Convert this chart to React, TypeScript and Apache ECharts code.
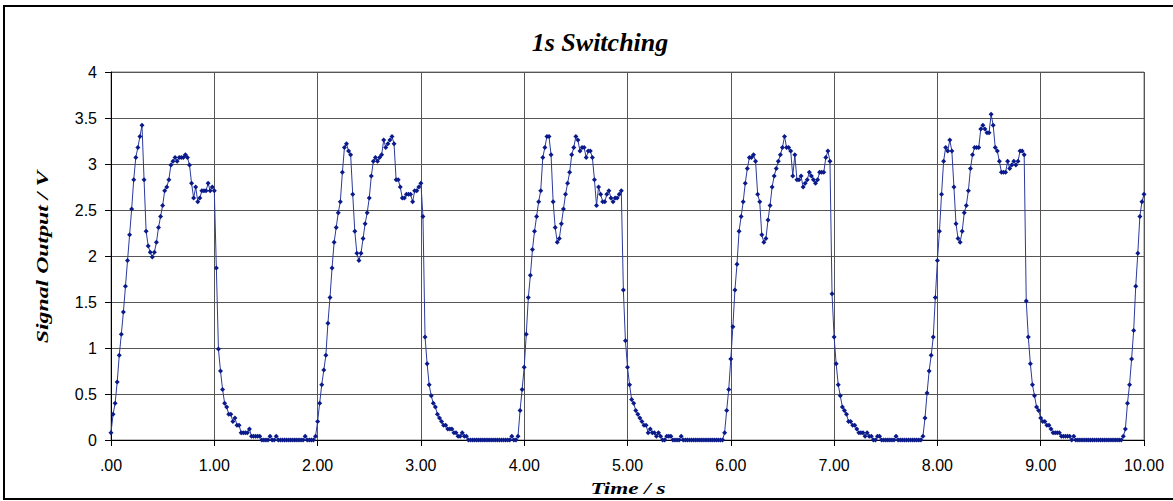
import React, { useEffect, useRef } from "react";
import * as echarts from "echarts";

// Sample spacing of the logged signal (seconds)
const SAMPLE_STEP = 0.02;

// Signal output (V), phase by phase
const high1 = [
  0.08, 0.28, 0.40, 0.63, 0.92, 1.15, 1.39, 1.67, 1.95, 2.23,
  2.51, 2.83, 3.07, 3.18, 3.30, 3.42, 2.83, 2.27, 2.11, 2.04,
  1.99, 2.04, 2.15, 2.31, 2.43, 2.55, 2.71, 2.75, 2.83, 2.99,
  3.03, 3.07, 3.03, 3.07, 3.07, 3.07, 3.10, 3.07, 2.99, 2.79,
  2.63, 2.75, 2.59, 2.63, 2.71, 2.71, 2.71, 2.79, 2.71, 2.75,
  2.71,
];
const low1 = [
  1.87, 0.99, 0.75, 0.55, 0.40, 0.36, 0.28, 0.28, 0.20, 0.24,
  0.16, 0.16, 0.08, 0.08, 0.08, 0.08, 0.12, 0.04, 0.04, 0.04,
  0.04, 0.04, 0.00, 0.00, 0.00, 0.00, 0.04, 0.00, 0.00, 0.04,
  0.00, 0.00, 0.00, 0.00, 0.00, 0.00, 0.00, 0.00, 0.00, 0.00,
  0.00, 0.00, 0.00, 0.04, 0.00, 0.00, 0.00, 0.00, 0.04,
];
const high2 = [
  0.20, 0.40, 0.60, 0.76, 0.92, 1.27, 1.55, 1.87, 2.15, 2.31,
  2.47, 2.59, 2.91, 3.18, 3.22, 3.14, 3.10, 2.67, 2.27, 2.03,
  1.95, 2.03, 2.19, 2.35, 2.47, 2.63, 2.87, 3.03, 3.07, 3.03,
  3.07, 3.10, 3.26, 3.18, 3.22, 3.26, 3.30, 3.22, 2.83, 2.83,
  2.75, 2.63, 2.63, 2.67, 2.67, 2.67, 2.59, 2.71, 2.71, 2.75,
  2.79,
];
const low2 = [
  2.43, 1.12, 0.83, 0.60, 0.48, 0.40, 0.36, 0.28, 0.24, 0.20,
  0.16, 0.16, 0.12, 0.12, 0.12, 0.08, 0.08, 0.04, 0.04, 0.08,
  0.04, 0.04, 0.00, 0.00, 0.00, 0.00, 0.00, 0.00, 0.00, 0.00,
  0.00, 0.00, 0.00, 0.00, 0.00, 0.00, 0.00, 0.00, 0.00, 0.00,
  0.00, 0.00, 0.00, 0.04, 0.00, 0.00, 0.04,
];
const high3 = [
  0.32, 0.55, 0.79, 1.15, 1.55, 1.79, 2.07, 2.27, 2.43, 2.59,
  2.71, 3.07, 3.18, 3.30, 3.30, 3.10, 2.59, 2.31, 2.15, 2.19,
  2.35, 2.51, 2.67, 2.79, 2.91, 3.10, 3.18, 3.30, 3.26, 3.14,
  3.18, 3.18, 3.07, 3.14, 3.14, 3.07, 2.83, 2.55, 2.75, 2.67,
  2.59, 2.59, 2.67, 2.71, 2.63, 2.59, 2.63, 2.63, 2.67, 2.71,
];
const low3 = [
  1.63, 1.08, 0.79, 0.60, 0.44, 0.40, 0.32, 0.28, 0.24, 0.20,
  0.16, 0.16, 0.08, 0.12, 0.08, 0.08, 0.04, 0.08, 0.04, 0.00,
  0.00, 0.04, 0.04, 0.04, 0.00, 0.00, 0.00, 0.00, 0.04, 0.00,
  0.00, 0.00, 0.00, 0.00, 0.00, 0.00, 0.00, 0.00, 0.00, 0.00,
  0.00, 0.00, 0.00, 0.00, 0.00, 0.00, 0.00, 0.00, 0.00, 0.08,
];
const high4 = [
  0.32, 0.55, 0.88, 1.23, 1.63, 1.91, 2.27, 2.43, 2.59, 2.79,
  2.95, 3.07, 3.07, 3.10, 3.03, 2.67, 2.59, 2.23, 2.15, 2.19,
  2.39, 2.55, 2.75, 2.87, 2.95, 3.03, 3.10, 3.18, 3.30, 3.18,
  3.18, 3.14, 2.87, 3.10, 2.83, 2.83, 2.87, 2.75, 2.79, 2.83,
  2.91, 2.87, 2.83, 2.79, 2.83, 2.91, 2.91, 2.91, 3.07, 3.14,
  3.03,
];
const low4 = [
  1.59, 1.12, 0.83, 0.60, 0.48, 0.36, 0.32, 0.28, 0.20, 0.20,
  0.16, 0.16, 0.12, 0.08, 0.08, 0.08, 0.04, 0.08, 0.04, 0.04,
  0.00, 0.00, 0.04, 0.04, 0.00, 0.00, 0.00, 0.00, 0.00, 0.00,
  0.00, 0.04, 0.00, 0.00, 0.00, 0.00, 0.00, 0.00, 0.00, 0.00,
  0.00, 0.00, 0.00, 0.00, 0.04,
];
const high5 = [
  0.24, 0.51, 0.75, 0.92, 1.12, 1.55, 1.95, 2.27, 2.67, 3.03,
  3.18, 3.14, 3.26, 3.14, 2.75, 2.35, 2.19, 2.15, 2.27, 2.47,
  2.55, 2.71, 2.95, 3.10, 3.18, 3.18, 3.18, 3.38, 3.42, 3.38,
  3.34, 3.34, 3.54, 3.42, 3.18, 3.14, 3.03, 2.91, 2.91, 2.91,
  3.03, 2.95, 2.99, 3.03, 2.99, 3.03, 3.14, 3.14, 3.10,
];
const low5 = [
  1.51, 1.12, 0.83, 0.60, 0.48, 0.36, 0.32, 0.24, 0.20, 0.20,
  0.16, 0.16, 0.12, 0.08, 0.08, 0.08, 0.08, 0.04, 0.04, 0.04,
  0.04, 0.04, 0.00, 0.04, 0.00, 0.00, 0.00, 0.00, 0.00, 0.00,
  0.00, 0.00, 0.00, 0.00, 0.00, 0.00, 0.00, 0.00, 0.00, 0.00,
  0.00, 0.00, 0.00, 0.00, 0.00, 0.00, 0.00, 0.04,
];
const high6 = [0.12, 0.40, 0.60, 0.88, 1.19, 1.67, 2.03, 2.43, 2.59, 2.67];

const xTickLabels = [".00", "1.00", "2.00", "3.00", "4.00", "5.00", "6.00", "7.00", "8.00", "9.00", "10.00"];
const yTickLabels = ["0", "0.5", "1", "1.5", "2", "2.5", "3", "3.5", "4"];

const signal = [high1, low1, high2, low2, high3, low3, high4, low4, high5, low5, high6].flat();
const seriesData = signal.map((v, i) => [Number((i * SAMPLE_STEP).toFixed(2)), v]);

const serif = "'Liberation Serif', 'Times New Roman', serif";
const sans = "'Liberation Sans', Arial, sans-serif";

export default function App() {
  const ref = useRef<HTMLDivElement>(null);
  useEffect(() => {
    if (!ref.current) return;
    const chart = echarts.init(ref.current, null, { renderer: "svg" });
    chart.setOption({
      animation: false,
      backgroundColor: "#fff",
      title: {
        text: "1s Switching",
        left: 595,
        textAlign: "center",
        top: 24,
        textStyle: { fontFamily: serif, fontStyle: "italic", fontWeight: "bold", fontSize: 26, color: "#000" },
      },
      grid: {
        left: 111, top: 72, right: 29, bottom: 61,
        containLabel: false,
        outerBoundsMode: "none",
        show: true, borderColor: "#808080", borderWidth: 1, backgroundColor: "#fff",
      },
      xAxis: {
        type: "value", min: 0, max: 10, interval: 1,
        axisLine: { show: true, onZero: false, lineStyle: { color: "#000", width: 1 } },
        axisTick: { show: true, length: 6, lineStyle: { color: "#000" } },
        axisLabel: {
          margin: 17, fontFamily: sans, fontSize: 16, color: "#000",
          formatter: (v: number) => xTickLabels[Math.round(v)] ?? "",
        },
        splitLine: { show: true, lineStyle: { color: "#555", width: 1 } },
      },
      yAxis: {
        type: "value", min: 0, max: 4, interval: 0.5,
        axisLine: { show: true, lineStyle: { color: "#000", width: 1 } },
        axisTick: { show: true, length: 6, lineStyle: { color: "#000" } },
        axisLabel: {
          margin: 14, fontFamily: sans, fontSize: 16, color: "#000",
          formatter: (v: number) => yTickLabels[Math.round(v * 2)] ?? "",
        },
        splitLine: { show: true, lineStyle: { color: "#555", width: 1 } },
      },
      series: [
        {
          type: "line",
          data: seriesData,
          symbol: "diamond",
          symbolSize: 5,
          showSymbol: true,
          showAllSymbol: true,
          lineStyle: { color: "#2b3a9c", width: 1 },
          itemStyle: { color: "#0a1a8a" },
        },
      ],
      graphic: [
        {
          type: "text", z: 50, x: 42, y: 257, rotation: Math.PI / 2, scaleX: 1.4,
          style: {
            text: "Signal Output / V", fill: "#000",
            font: "italic bold 17px 'Liberation Serif', serif",
            align: "center", verticalAlign: "middle", textAlign: "center", textVerticalAlign: "middle",
          },
        },
        {
          type: "text", z: 50, x: 628, y: 480, scaleX: 1.45,
          style: {
            text: "Time / s", fill: "#000",
            font: "italic bold 16px 'Liberation Serif', serif",
            align: "center", verticalAlign: "top", textAlign: "center", textVerticalAlign: "top",
          },
        },
        { type: "rect", z: 101, shape: { x: 4, y: 6, width: 1200, height: 493 }, style: { fill: "none", stroke: "#000", lineWidth: 2 } },
      ],
    });
    return () => chart.dispose();
  }, []);
  return (
    <div
      ref={ref}
      style={{ position: "fixed", left: 0, top: 0, width: 1173, height: 501, background: "#fff" }}
    />
  );
}
